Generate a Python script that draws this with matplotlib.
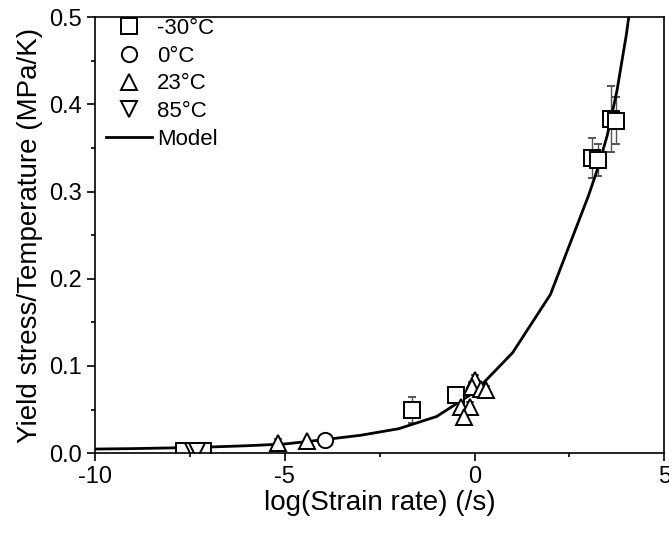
import matplotlib.pyplot as plt
from matplotlib.lines import Line2D
from matplotlib.ticker import MultipleLocator

plt.rcParams["font.family"] = ["Liberation Sans", "DejaVu Sans"]
plt.rcParams["axes.unicode_minus"] = False

# -30 C
sq_x = [-7.65, -7.15, -1.65, -0.5, 3.09, 3.26, 3.59, 3.73]
sq_y = [0.002, 0.002, 0.049, 0.067, 0.338, 0.336, 0.383, 0.381]
sq_err = [0.0, 0.0, 0.015, 0.004, 0.023, 0.018, 0.038, 0.027]

# 0 C
ci_x = [-3.95]
ci_y = [0.015]
ci_err = [0.003]

# 23 C
tu_x = [-5.18, -4.42, 0.01, -0.06, 0.16, 0.31, -0.37, -0.12, -0.29]
tu_y = [0.012, 0.0145, 0.084, 0.076, 0.074, 0.072, 0.053, 0.053, 0.041]
tu_err = [0.004, 0.002, 0.006, 0.006, 0.005, 0.005, 0.006, 0.006, 0.006]

# 85 C
td_x = [-7.43, -7.3]
td_y = [0.003, 0.003]
td_err = [0.003, 0.002]

# model
model_x = [-10, -9, -8, -7, -6, -5, -4, -3, -2, -1, 0, 1, 2, 3, 3.25, 3.5, 3.75, 4.0, 4.25]
model_y = [0.0047, 0.0052, 0.006, 0.007, 0.0085, 0.0105, 0.0153, 0.0205, 0.028,
           0.042, 0.07, 0.115, 0.182, 0.295, 0.327, 0.365, 0.415, 0.48, 0.56]

series = [
    (sq_x, sq_y, sq_err, "s", "-30°C"),
    (ci_x, ci_y, ci_err, "o", "0°C"),
    (tu_x, tu_y, tu_err, "^", "23°C"),
    (td_x, td_y, td_err, "v", "85°C"),
]

fig = plt.figure(figsize=(6.69, 5.35), dpi=100)
ax = fig.add_axes([0.142, 0.153, 0.851, 0.815])

mk = dict(markerfacecolor="white", markeredgecolor="black", markeredgewidth=1.4, markersize=11)

handles = []
for xs, ys, errs, m, lab in series:
    ax.errorbar(xs, ys, yerr=errs, marker=m, ecolor="#555555", elinewidth=1.0, capsize=3,
                capthick=1.0, linestyle="none", **mk)
    handles.append(Line2D([], [], marker=m, linestyle="none", **mk))
ax.plot(model_x, model_y, color="black", linewidth=2.0)
handles.append(Line2D([], [], color="black", linewidth=2.0))
labels = [s[4] for s in series] + ["Model"]

ax.set_xlim(-10, 5)
ax.set_ylim(0, 0.5)
ax.xaxis.set_major_locator(MultipleLocator(5))
ax.xaxis.set_minor_locator(MultipleLocator(2.5))
ax.yaxis.set_major_locator(MultipleLocator(0.1))
ax.yaxis.set_minor_locator(MultipleLocator(0.05))
ax.tick_params(which="both", direction="out", top=False, right=False, labelsize=17, width=1.2)
ax.tick_params(which="major", length=6)
ax.tick_params(which="minor", length=3)
for s in ax.spines.values():
    s.set_linewidth(1.2)

ax.set_xlabel("log(Strain rate) (/s)", fontsize=20, labelpad=1)
ax.set_ylabel("Yield stress/Temperature (MPa/K)", fontsize=20, labelpad=4)

ax.legend(handles, labels, loc="upper left", frameon=False, fontsize=16,
          handlelength=2.1, handletextpad=0.2, labelspacing=0.3,
          borderaxespad=0.0, bbox_to_anchor=(0.003, 1.018))

fig.savefig("out.png", dpi=100)
